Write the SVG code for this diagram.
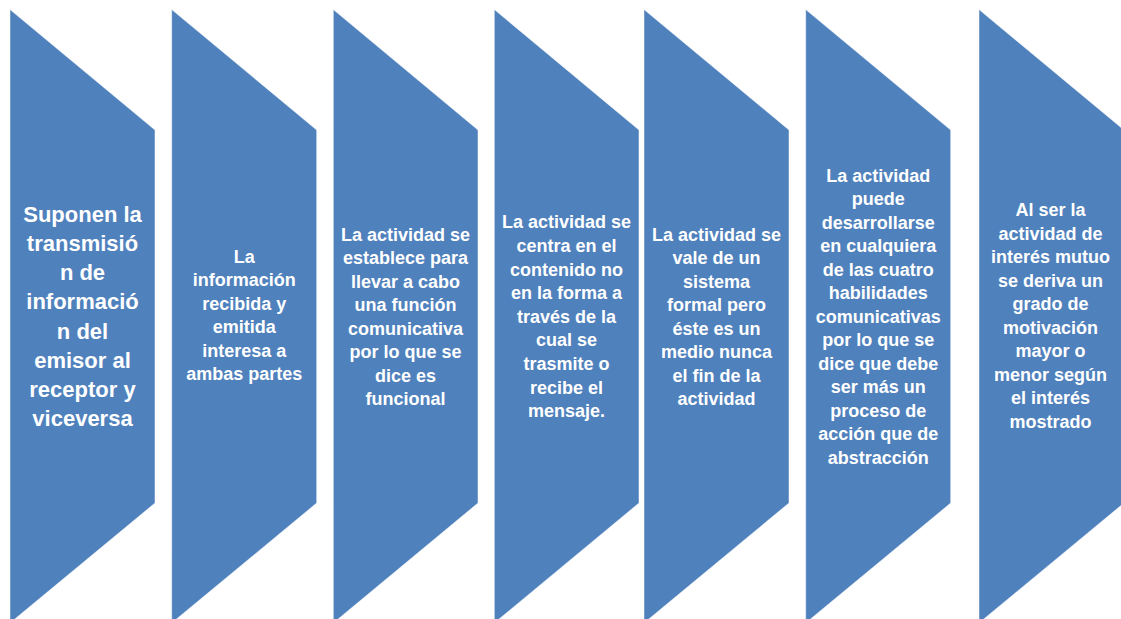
<svg xmlns="http://www.w3.org/2000/svg" width="1121" height="619" viewBox="0 0 1121 619">
<style>
.chev{fill:#4F81BD;stroke:#ffffff;stroke-width:0.8;stroke-opacity:0.6}
.t{font-family:"Liberation Sans",Arial,sans-serif;font-weight:bold;font-size:18px;fill:#ffffff;text-anchor:middle}
.big{font-size:22px}
</style>
<rect width="1121" height="619" fill="#ffffff"/>
<g id="node1">
<polygon class="chev" points="10,9.5 155,130 155,503 10,623"/>
<text class="t big" x="82.5" y="221.7"><tspan x="82.5">Suponen la</tspan><tspan x="82.5" dy="29.2">transmisió</tspan><tspan x="82.5" dy="29.2">n de</tspan><tspan x="82.5" dy="29.2">informació</tspan><tspan x="82.5" dy="29.2">n del</tspan><tspan x="82.5" dy="29.2">emisor al</tspan><tspan x="82.5" dy="29.2">receptor y</tspan><tspan x="82.5" dy="29.2">viceversa</tspan></text>
</g>
<g id="node2">
<polygon class="chev" points="171.7,9.5 316.7,130 316.7,503 171.7,623"/>
<text class="t" x="244.2" y="263"><tspan x="244.2">La</tspan><tspan x="244.2" dy="23.4">información</tspan><tspan x="244.2" dy="23.4">recibida y</tspan><tspan x="244.2" dy="23.4">emitida</tspan><tspan x="244.2" dy="23.4">interesa a</tspan><tspan x="244.2" dy="23.4">ambas partes</tspan></text>
</g>
<g id="node3">
<polygon class="chev" points="333.3,9.5 478,130 478,503 333.3,623"/>
<text class="t" x="405.6" y="240.7"><tspan x="405.6">La actividad se</tspan><tspan x="405.6" dy="23.5">establece para</tspan><tspan x="405.6" dy="23.5">llevar a cabo</tspan><tspan x="405.6" dy="23.5">una función</tspan><tspan x="405.6" dy="23.5">comunicativa</tspan><tspan x="405.6" dy="23.5">por lo que se</tspan><tspan x="405.6" dy="23.5">dice es</tspan><tspan x="405.6" dy="23.5">funcional</tspan></text>
</g>
<g id="node4">
<polygon class="chev" points="494.3,9.5 639,130 639,503 494.3,623"/>
<text class="t" x="566.6" y="228.3"><tspan x="566.6">La actividad se</tspan><tspan x="566.6" dy="23.6">centra en el</tspan><tspan x="566.6" dy="23.6">contenido no</tspan><tspan x="566.6" dy="23.6">en la forma a</tspan><tspan x="566.6" dy="23.6">través de la</tspan><tspan x="566.6" dy="23.6">cual se</tspan><tspan x="566.6" dy="23.6">trasmite o</tspan><tspan x="566.6" dy="23.6">recibe el</tspan><tspan x="566.6" dy="23.6">mensaje.</tspan></text>
</g>
<g id="node5">
<polygon class="chev" points="644,9.5 789,130 789,503 644,623"/>
<text class="t" x="716.5" y="240.7"><tspan x="716.5">La actividad se</tspan><tspan x="716.5" dy="23.5">vale de un</tspan><tspan x="716.5" dy="23.5">sistema</tspan><tspan x="716.5" dy="23.5">formal pero</tspan><tspan x="716.5" dy="23.5">éste es un</tspan><tspan x="716.5" dy="23.5">medio nunca</tspan><tspan x="716.5" dy="23.5">el fin de la</tspan><tspan x="716.5" dy="23.5">actividad</tspan></text>
</g>
<g id="node6">
<polygon class="chev" points="805.7,9.5 950.7,130 950.7,503 805.7,623"/>
<text class="t" x="878.2" y="181.7"><tspan x="878.2">La actividad</tspan><tspan x="878.2" dy="23.5">puede</tspan><tspan x="878.2" dy="23.5">desarrollarse</tspan><tspan x="878.2" dy="23.5">en cualquiera</tspan><tspan x="878.2" dy="23.5">de las cuatro</tspan><tspan x="878.2" dy="23.5">habilidades</tspan><tspan x="878.2" dy="23.5">comunicativas</tspan><tspan x="878.2" dy="23.5">por lo que se</tspan><tspan x="878.2" dy="23.5">dice que debe</tspan><tspan x="878.2" dy="23.5">ser más un</tspan><tspan x="878.2" dy="23.5">proceso de</tspan><tspan x="878.2" dy="23.5">acción que de</tspan><tspan x="878.2" dy="23.5">abstracción</tspan></text>
</g>
<g id="node7">
<polygon class="chev" points="979,9.5 1124,130 1124,503 979,623"/>
<text class="t" x="1050.5" y="216"><tspan x="1050.5">Al ser la</tspan><tspan x="1050.5" dy="23.5">actividad de</tspan><tspan x="1050.5" dy="23.5">interés mutuo</tspan><tspan x="1050.5" dy="23.5">se deriva un</tspan><tspan x="1050.5" dy="23.5">grado de</tspan><tspan x="1050.5" dy="23.5">motivación</tspan><tspan x="1050.5" dy="23.5">mayor o</tspan><tspan x="1050.5" dy="23.5">menor según</tspan><tspan x="1050.5" dy="23.5">el interés</tspan><tspan x="1050.5" dy="23.5">mostrado</tspan></text>
</g>
<g id="connectors"></g>
</svg>
